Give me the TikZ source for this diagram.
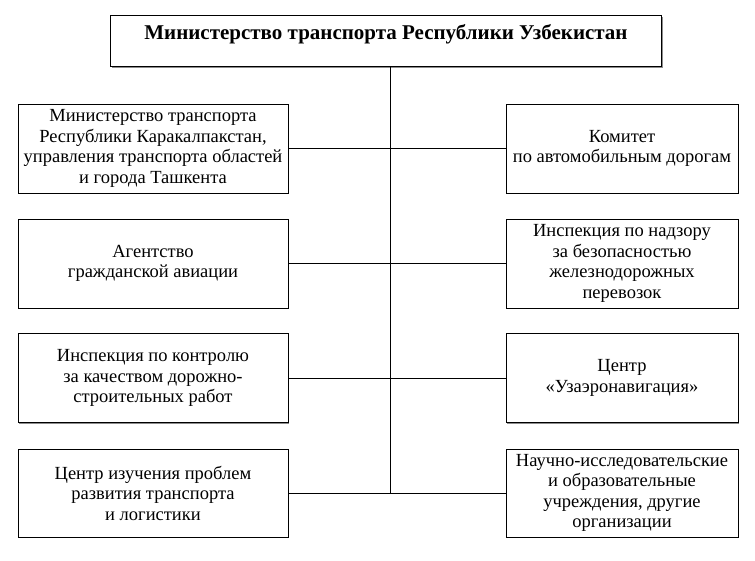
\documentclass[tikz,border=0pt]{standalone}
\usepackage{fontspec}
\setmainfont{Liberation Serif}
\usetikzlibrary{shadows}
\begin{document}
\begin{tikzpicture}[x=1pt,y=1pt,
  shad/.style={fill=white, drop shadow={shadow xshift=1.2pt, shadow yshift=-1.2pt, fill=black!45, opacity=1}},
  box/.style={draw, shad, line width=0.9pt, rectangle, align=center, inner sep=2pt,
    font=\fontsize{18.5}{20.5}\selectfont},
  lbox/.style={box, minimum width=270, minimum height=89},
  rbox/.style={box, minimum width=232, minimum height=89},
  conn/.style={line width=0.8pt}]
\useasboundingbox (0,0) rectangle (755,560);
\coordinate (j4) at (390,67);
\draw[conn] (390,510) -- (j4);
\node[draw, shad, line width=0.9pt, minimum width=551, anchor=north, inner ysep=4.5pt,
  text height=19.5pt, text depth=22.5pt, font=\fontsize{21}{24}\selectfont\bfseries]
  (top) at (386,545) {Министерство транспорта Республики Узбекистан};
\node[lbox] (L1) at (153,411.5) {Министерство транспорта\\Республики Каракалпакстан,\\управления транспорта областей\\и города Ташкента};
\node[lbox] (L2) at (153,296.5) {Агентство\\гражданской авиации};
\node[lbox] (L3) at (153,182) {Инспекция по контролю\\за качеством дорожно-\\строительных работ};
\node[lbox, minimum height=88] (L4) at (153,67) {Центр изучения проблем\\развития транспорта\\и логистики};
\node[rbox] (R1) at (622,411.5) {Комитет\\по автомобильным дорогам};
\node[rbox] (R2) at (622,296.5) {Инспекция по надзору\\за безопасностью\\железнодорожных\\перевозок};
\node[rbox] (R3) at (622,182) {Центр\\«Узаэронавигация»};
\node[rbox, minimum height=88] (R4) at (622,67) {Научно-исследовательские\\и образовательные\\учреждения, другие\\организации};
\draw[conn] (top.south -| j4) -- (j4);
\draw[conn] (L1.east) -- (R1.west);
\draw[conn] (L2.east) -- (R2.west);
\draw[conn] (L3.east) -- (R3.west);
\draw[conn] (L4.east) -- (R4.west);
\end{tikzpicture}
\end{document}
